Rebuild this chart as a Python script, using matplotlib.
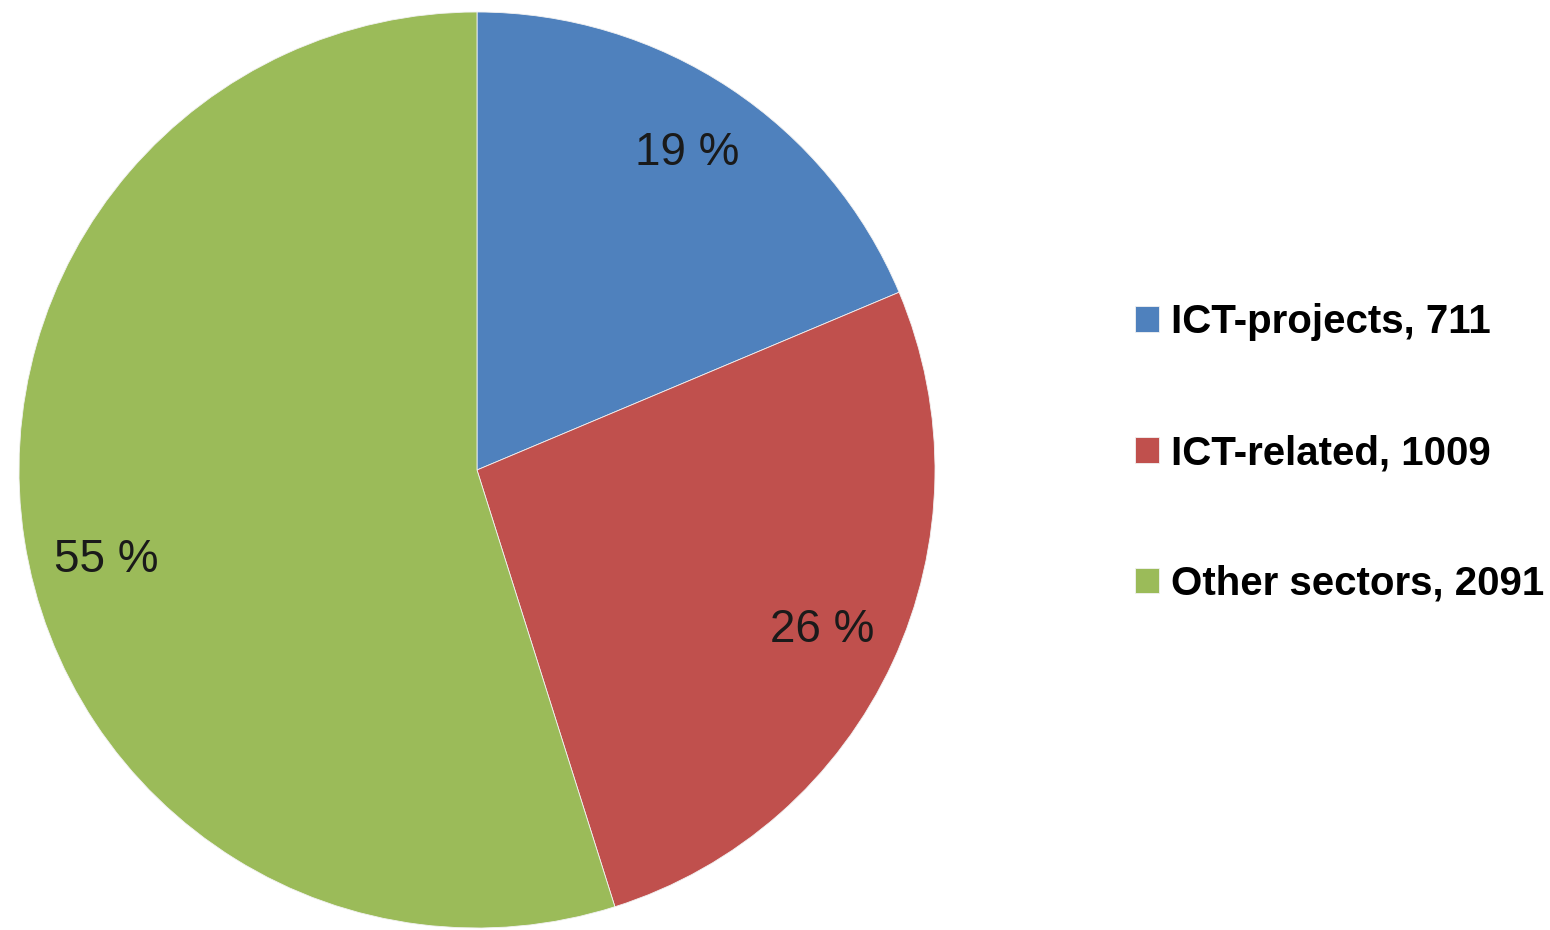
import matplotlib
matplotlib.use('Agg')
import matplotlib.pyplot as plt

# dados do grafico
categorias = ['ICT-projects', 'ICT-related', 'Other sectors']
valores = [711, 1009, 2091]
cores = ['#4F81BD', '#C0504D', '#9BBB59']
rotulos_legenda = [f"{c}, {v}" for c, v in zip(categorias, valores)]

plt.rcParams['font.family'] = ['Liberation Sans', 'DejaVu Sans']

fig = plt.figure(figsize=(15.5, 9.3), dpi=100)
# eixo do tamanho exato do circulo (centro ~ (477, 470), raio ~ 458 px)
cx, cy, r = 477, 470, 458
ax = fig.add_axes([(cx - r) / 1550, (930 - cy - r) / 930, 2 * r / 1550, 2 * r / 930])

fatias, _, textos = ax.pie(
    valores, colors=cores, startangle=90, counterclock=False,
    autopct=lambda p: f"{p:.0f} %", pctdistance=0.83, radius=1,
    wedgeprops={'linewidth': 0.6, 'edgecolor': '#f2f2f2'},
    textprops={'fontsize': 33, 'color': '#1a1a1a'})
ax.set_xlim(-1, 1)
ax.set_ylim(-1, 1)

# o rotulo verde fica um pouco mais abaixo no original
x, y = textos[2].get_position()
textos[2].set_position((x + 0.01, y - 0.07))

fig.legend(fatias, rotulos_legenda, loc='center left',
           bbox_to_anchor=(1135 / 1550, (930 - 453) / 930),
           frameon=False, borderaxespad=0, borderpad=0,
           handlelength=0.6, handleheight=0.6, handletextpad=0.3,
           labelspacing=2.3, prop={'size': 29, 'weight': 'bold'})

fig.savefig('out.png', dpi=100)
plt.close(fig)
